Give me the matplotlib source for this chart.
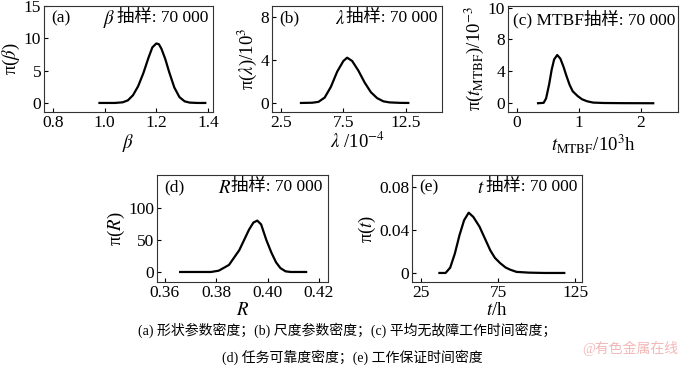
import matplotlib
matplotlib.use('Agg')
import matplotlib.pyplot as plt

plt.rcParams['font.family'] = ['Liberation Serif', 'Noto Sans CJK SC']
plt.rcParams['mathtext.fontset'] = 'stix'
plt.rcParams['font.size'] = 12

# ---- data ----
beta_x = [0.98, 1.00, 1.04, 1.07, 1.09, 1.11, 1.13, 1.15, 1.17, 1.185, 1.20, 1.21, 1.22, 1.235, 1.25, 1.27, 1.29, 1.31, 1.33, 1.36, 1.39]
beta_y = [0, 0, 0, 0.1, 0.4, 1.2, 2.6, 4.6, 7.0, 8.6, 9.2, 9.1, 8.4, 6.8, 4.8, 2.4, 0.9, 0.25, 0.05, 0, 0]

lam_x = [4.1, 5.0, 5.5, 6.0, 6.5, 7.0, 7.5, 7.8, 8.2, 8.7, 9.2, 9.7, 10.2, 10.7, 11.2, 12.0, 12.7]
lam_y = [0, 0.02, 0.1, 0.5, 1.5, 2.9, 3.9, 4.2, 3.9, 3.0, 1.9, 1.0, 0.45, 0.15, 0.05, 0.01, 0]

mtbf_x = [0.34, 0.43, 0.47, 0.52, 0.56, 0.60, 0.65, 0.70, 0.75, 0.80, 0.85, 0.90, 0.98, 1.05, 1.13, 1.23, 1.40, 1.70, 2.20]
mtbf_y = [0, 0.05, 0.6, 2.4, 4.2, 5.5, 6.05, 5.6, 4.6, 3.4, 2.3, 1.5, 0.9, 0.5, 0.25, 0.08, 0.03, 0.01, 0]

r_x = [0.366, 0.378, 0.381, 0.385, 0.389, 0.3928, 0.3945, 0.396, 0.3975, 0.3995, 0.4015, 0.4033, 0.405, 0.407, 0.409, 0.415]
r_y = [0, 0, 2, 11, 34, 66, 77, 80, 74, 50, 30, 15, 6, 1, 0, 0]

t_x = [37, 41, 44, 47, 50, 53, 56, 59, 63, 66.5, 70, 73, 76.5, 80, 83, 87, 95, 105, 118]
t_y = [0, 0, 0.005, 0.018, 0.035, 0.049, 0.056, 0.052, 0.043, 0.032, 0.021, 0.014, 0.009, 0.005, 0.003, 0.001, 0.0003, 0, 0]

W, H = 680, 365
fig = plt.figure(figsize=(W/100, H/100), dpi=100)

def box(l, r, t, b):
    return [l/W, (H-b)/H, (r-l)/W, (b-t)/H]

def style(ax):
    ax.tick_params(direction='in', length=3, width=0.8, labelsize=12.5, pad=2)
    for s in ax.spines.values():
        s.set_linewidth(0.8)
        s.set_color('#333333')

panels = [
    (box(44, 213, 6, 112), beta_x, beta_y, (0.765, 1.42), (-1.4, 15),
     [0.8, 1.0, 1.2, 1.4], ['0.8', '1.0', '1.2', '1.4'], [0, 5, 10, 15], ['0', '5', '10', '15'],
     '(a)', r'$\beta$', r'$\beta$', r'π($\beta$)'),
    (box(272, 442, 6, 112), lam_x, lam_y, (1.78, 15.4), (-0.84, 9.0),
     [2.5, 7.5, 12.5], ['2.5', '7.5', '12.5'], [0, 4, 8], ['0', '4', '8'],
     '(b)', r'$\lambda$', r'$\lambda$ /10$^{-4}$', r'π($\lambda$)/10$^3$'),
    (box(508, 678, 6, 112), mtbf_x, mtbf_y, (-0.145, 2.6), (-1.1, 12.2),
     [0, 1, 2], ['0', '1', '2'], [0, 4, 8, 12], ['0', '4', '8', '10'],
     '(c)', None, r'$t_{\rm MTBF}$/10$^3$h', r'π($t_{\rm MTBF}$)/10$^{-3}$'),
    (box(157, 328, 175, 282), r_x, r_y, (0.357, 0.4235), (-15.6, 151),
     [0.36, 0.38, 0.40, 0.42], ['0.36', '0.38', '0.40', '0.42'], [0, 50, 100], ['0', '50', '100'],
     '(d)', r'$R$', r'$R$', r'π($R$)'),
    (box(412, 582, 175, 282), t_x, t_y, (19.2, 129.5), (-0.0084, 0.091),
     [25, 75, 125], ['25', '75', '125'], [0, 0.04, 0.08], ['0', '0.04', '0.08'],
     '(e)', r'$t$', r'$t$/h', r'π($t$)'),
]

for rect, xs, ys, xl, yl, xt, xtl, yt, ytl, tag, sym, xlab, ylab in panels:
    ax = fig.add_axes(rect)
    ax.plot(xs, ys, color='black', lw=1.6)
    ax.set_xlim(*xl)
    ax.set_ylim(*yl)
    ax.set_xticks(xt)
    ax.set_xticklabels(xtl)
    ax.set_yticks(yt)
    ax.set_yticklabels(ytl)
    style(ax)
    ax.set_xlabel(xlab, fontsize=13.5, labelpad=1)
    ax.set_ylabel(ylab, fontsize=13.5, labelpad=1)
    if sym is None:
        ax.text(0.03, 0.96, tag + ' MTBF抽样: 70 000', transform=ax.transAxes,
                ha='left', va='top', fontsize=12.5)
    else:
        ax.text(0.04, 0.96, tag, transform=ax.transAxes, ha='left', va='top', fontsize=12.5)
        note = ax.text(0.97, 0.96, '抽样: 70 000', transform=ax.transAxes,
                       ha='right', va='top', fontsize=12.5)
        # symbol sits on the same baseline as the note
        ax.annotate(sym, xy=(0, 0), xycoords=note, xytext=(-0.5, 1.8),
                    textcoords='offset points', ha='right', va='baseline', fontsize=13.5)

fig.text(347/W, 1 - 330/H, '(a) 形状参数密度；(b) 尺度参数密度；(c) 平均无故障工作时间密度；',
         ha='center', va='center', fontsize=10)
fig.text(352/W, 1 - 357/H, '(d) 任务可靠度密度；(e) 工作保证时间密度',
         ha='center', va='center', fontsize=10)
fig.text(630/W, 1 - 348/H, '@有色金属在线', ha='center', va='center', fontsize=10, color='#f2b8b8')

fig.savefig('out.png', dpi=100)
